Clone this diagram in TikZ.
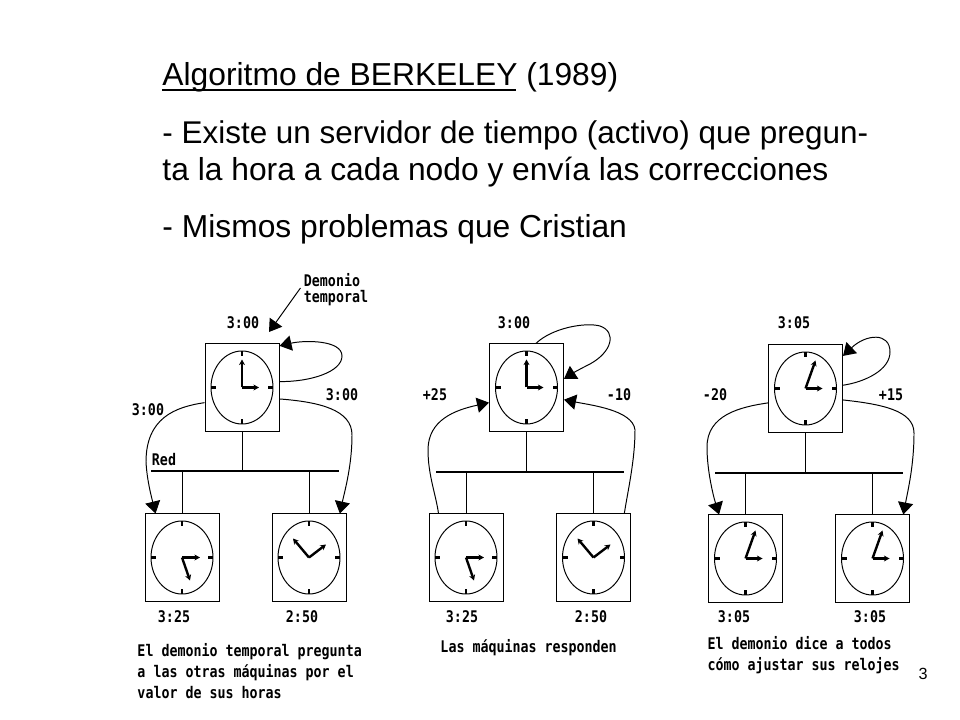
\documentclass[tikz,border=0pt]{standalone}
\usepackage{fontspec}
\setmainfont{Liberation Sans}
\newfontfamily\pixfont[FakeStretch=0.83]{DejaVu Sans Mono}
\usetikzlibrary{arrows.meta,calc}
\tikzset{
  titulo/.style={anchor=base west,inner sep=0pt,align=left,font=\fontsize{22.6}{25}\selectfont},
  etiq/.style={inner sep=0pt,font=\pixfont\bfseries\fontsize{11.4}{14.9}\selectfont},
  nota/.style={etiq,anchor=west,align=left},
  relojbox/.style={draw,fill=white,minimum width=1.85cm,minimum height=2.175cm,inner sep=0pt},
  manilla/.style={line width=1.7pt,-{Stealth[length=1.4mm,width=1.5mm]}},
  flecha/.style={-{Triangle[length=3mm,width=3.8mm]}},
  bus/.style={line width=1pt}
}
\begin{document}
\begin{tikzpicture}[x=0.025cm,y=-0.025cm,line width=0.7pt]
\useasboundingbox (0,0) rectangle (960,720);
% texto de arriba
\node[titulo] (tit) at (162,86) {Algoritmo de BERKELEY (1989)};
\node[titulo,font=\fontsize{22.35}{25}\selectfont] (lin1) at (162,143.5) {- Existe un servidor de tiempo (activo) que pregun-};
\node[titulo] (lin2) at (162,180.5) {ta la hora a cada nodo y envía las correcciones};
\node[titulo] (lin3) at (162,238) {- Mismos problemas que Cristian};
\draw[line width=1.2pt] (tit.base west) ++(0,4) -- ++(354,0);
\node[inner sep=0pt,font=\fontsize{11.5}{14}\selectfont] (pag) at (923,674) {3};
% relojes: nombre/centro/hora/minutos
\foreach \n/\px/\py/\hx/\hy/\mx/\my in {t1/242/387.5/17/0/0/-28,t2/526.5/387.5/17/0/0/-28,t3/805.5/388.5/17/0/10/-28,
  b1/182/557.5/18/0/8/23,b2/309/557.5/17/-13/-16/-19,b3/466/557.5/18/0/8/23,b4/593.5/557.5/17/-13/-16/-19,
  b5/745.5/558.5/17/0/10/-28,b6/872.5/558.5/17/0/10/-28}
{
  \node[relojbox] (\n) at (\px,\py) {};
  \draw (\n.center) ellipse [x radius=31,y radius=36.5];
  \foreach \dx/\dy/\ex/\ey in {0/-36.5/0/-31.5,0/36.5/0/31.5,-31/0/-26/0,31/0/26/0}
    {\draw[line width=1.5pt] ($(\n.center)+(\dx,\dy)$) -- ($(\n.center)+(\ex,\ey)$);}
  \draw[manilla] (\n.center) -- ++(\hx,\hy);
  \draw[manilla] (\n.center) -- ++(\mx,\my);
}
% redes
\coordinate (r1i) at (151,471);
\coordinate (r1d) at (339,471);
\coordinate (r2i) at (436,472);
\coordinate (r2d) at (624,472);
\coordinate (r3i) at (715,473);
\coordinate (r3d) at (903,473);
\draw[bus] (r1i) -- (r1d);
\draw[bus] (r2i) -- (r2d);
\draw[bus] (r3i) -- (r3d);
\draw (t1.south) -- (t1.south |- r1i);
\draw (t2.south) -- (t2.south |- r2i);
\draw (t3.south) -- (t3.south |- r3i);
\draw (b1.north) -- (b1.north |- r1i);
\draw (b2.north) -- (b2.north |- r1i);
\draw (b3.north) -- (b3.north |- r2i);
\draw (b4.north) -- (b4.north |- r2i);
\draw (b5.north) -- (b5.north |- r3i);
\draw (b6.north) -- (b6.north |- r3i);
% demonio
\node[etiq,align=left,font=\pixfont\bfseries\fontsize{11.4}{11.4}\selectfont] (dem) at (336,290) {Demonio\\temporal};
\coordinate (demp) at (269,332);
\draw[flecha] (dem.west) ++(-3,-2) -- (demp);
% primera maquina
\draw[flecha] (t1.9) .. controls (310,382) and (342,372) .. (342,356) .. controls (342,340) and (305,340) .. (t1.48);
\draw[flecha] (t1.202) .. controls (175,407) and (146,418) .. (146,462) .. controls (147,480) and (151,495) .. (b1.121);
\draw[flecha] (t1.-17) .. controls (320,402) and (352,410) .. (352,435) .. controls (352,465) and (345,490) .. (b2.55);
% segunda maquina
\draw[flecha] (t2.78) .. controls (552,328) and (585,322) .. (600,326) .. controls (617,332) and (612,352) .. (590,364) .. controls (580,369) and (573,373) .. (t2.13);
\draw[flecha] (b3.122) .. controls (436,495) and (428,475) .. (428,450) .. controls (428,420) and (455,410) .. (t2.202);
\draw[flecha] (b4.55) .. controls (628,490) and (635,460) .. (635,430) .. controls (633,410) and (590,405) .. (t2.-18);
% tercera maquina
\draw[flecha] (t3.5) .. controls (865,382) and (890,370) .. (890,352) .. controls (890,332) and (866,334) .. (t3.41);
\draw[flecha] (t3.201) .. controls (740,407) and (707,415) .. (707,447) .. controls (707,470) and (713,495) .. (b5.121);
\draw[flecha] (t3.-17) .. controls (880,404) and (914,410) .. (914,433) .. controls (914,465) and (908,490) .. (b6.55);
% etiquetas
\node[etiq] (h1) at (243,323) {3:00};
\node[etiq] (h1i) at (148,410) {3:00};
\node[etiq] (h1d) at (342,395) {3:00};
\node[etiq] (red) at (164,460) {Red};
\node[etiq] (hb1) at (174,617) {3:25};
\node[etiq] (hb2) at (302,617) {2:50};
\node[etiq] (h2) at (514,323) {3:00};
\node[etiq] (h2i) at (435,395) {+25};
\node[etiq] (h2d) at (619,395) {-10};
\node[etiq] (hb3) at (462,617) {3:25};
\node[etiq] (hb4) at (591,617) {2:50};
\node[etiq] (h3) at (794,323) {3:05};
\node[etiq] (h3i) at (715,395) {-20};
\node[etiq] (h3d) at (891,395) {+15};
\node[etiq] (hb5) at (734,617) {3:05};
\node[etiq] (hb6) at (870,617) {3:05};
\node[nota] (c1) at (137,671) {El demonio temporal pregunta\\a las otras máquinas por el\\valor de sus horas};
\node[nota] (c2) at (440,648) {Las máquinas responden};
\node[nota] (c3) at (707,655.5) {El demonio dice a todos\\cómo ajustar sus relojes};
\end{tikzpicture}
\end{document}
